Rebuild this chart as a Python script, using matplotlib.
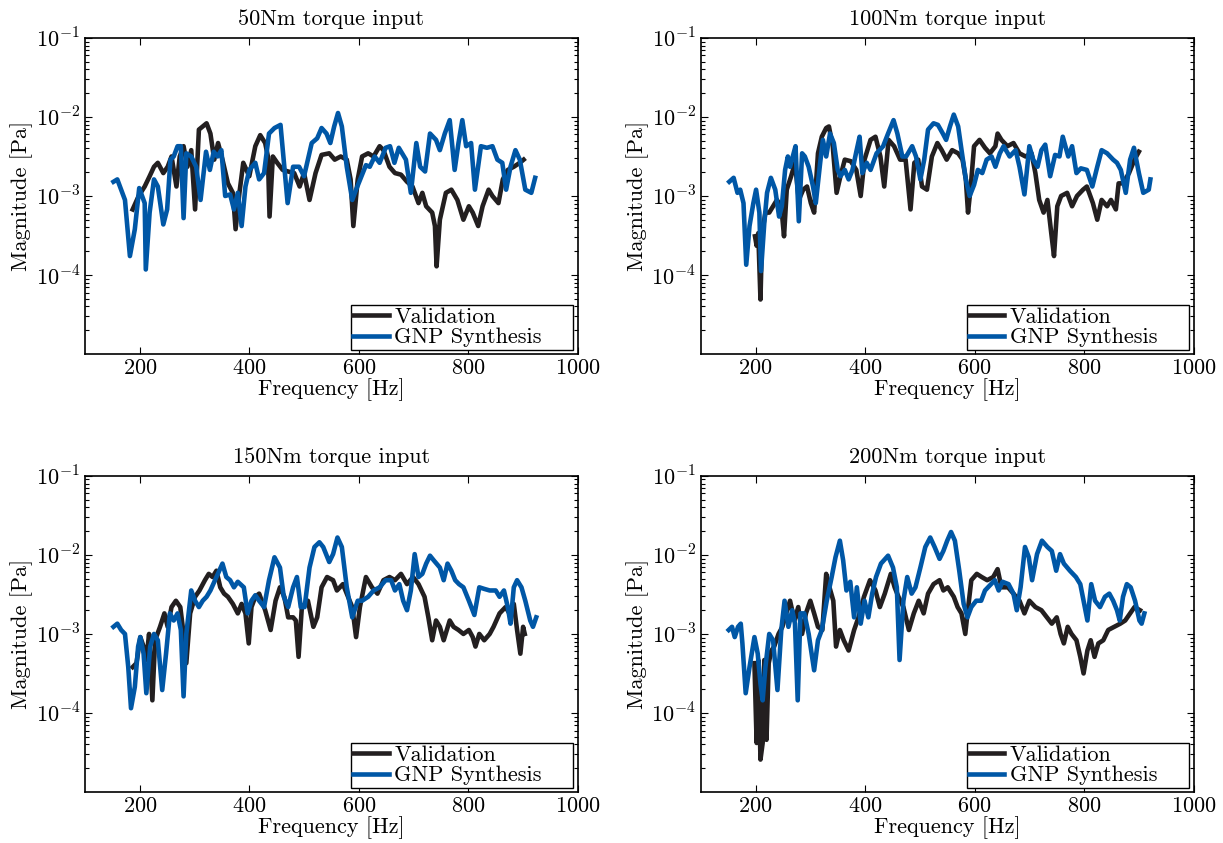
import numpy as np
import matplotlib
matplotlib.use("Agg")
import matplotlib.pyplot as plt

plt.rcParams['font.family'] = ['cmr10', 'DejaVu Serif']
plt.rcParams['mathtext.fontset'] = 'cm'
plt.rcParams['axes.formatter.use_mathtext'] = True
plt.rcParams['axes.unicode_minus'] = False

titles = ['50Nm torque input', '100Nm torque input', '150Nm torque input', '200Nm torque input']

# values are log10 of the magnitude [Pa]
# --- 50 Nm ---
f_gnp_50 = [152, 159, 173, 182, 191, 199, 209, 211, 218, 226, 233, 243, 250, 256, 262, 269, 275, 280, 285, 294,
            303, 311, 321, 328, 335, 342, 349, 356, 365, 372, 379, 386, 393, 400, 411, 418, 427, 436, 446, 457,
            470, 480, 491, 500, 514, 524, 532, 541, 548, 555, 562, 569, 578, 588, 595, 606, 613, 620, 629, 638,
            649, 657, 665, 673, 686, 695, 705, 712, 721, 730, 741, 748, 757, 766, 775, 782, 789, 796, 805, 812,
            823, 834, 844, 853, 862, 869, 877, 886, 894, 904, 915, 922]
m_gnp_50 = [-2.82, -2.79, -3.05, -3.76, -3.42, -2.90, -3.09, -3.93, -3.21, -2.79, -2.88, -3.36, -3.17, -2.54, -2.50,
            -2.37, -2.37, -3.28, -2.46, -2.50, -2.63, -3.05, -2.44, -2.67, -2.44, -2.50, -2.42, -3.00, -2.98, -3.17,
            -2.96, -3.38, -2.88, -2.67, -2.58, -2.79, -2.71, -2.21, -2.14, -2.10, -3.09, -2.63, -2.63, -2.75, -2.33,
            -2.27, -2.14, -2.21, -2.33, -2.12, -1.95, -2.12, -2.63, -3.05, -2.92, -2.73, -2.61, -2.63, -2.50, -2.58,
            -2.39, -2.37, -2.58, -2.39, -2.54, -2.96, -2.33, -2.63, -2.69, -2.21, -2.29, -2.42, -2.21, -2.04, -2.67,
            -2.33, -2.04, -2.37, -2.33, -2.92, -2.37, -2.39, -2.37, -2.54, -2.58, -2.92, -2.63, -2.42, -2.54, -2.92,
            -2.96, -2.77]
f_val_50 = [187, 198, 209, 218, 226, 233, 243, 251, 258, 267, 273, 280, 287, 294, 301, 308, 315, 322, 329, 336,
            343, 351, 361, 370, 375, 382, 389, 400, 411, 420, 429, 434, 437, 443, 451, 461, 471, 482, 492, 500,
            510, 521, 532, 546, 556, 567, 578, 585, 590, 598, 606, 617, 627, 638, 645, 656, 666, 677, 688, 698,
            709, 716, 723, 734, 739, 742, 748, 759, 769, 780, 791, 801, 808, 818, 826, 837, 844, 855, 863, 872,
            883, 894, 901]
m_val_50 = [-3.17, -3.00, -2.88, -2.75, -2.63, -2.58, -2.71, -2.63, -2.50, -2.88, -2.50, -2.37, -2.63, -2.42, -3.17,
            -2.16, -2.12, -2.08, -2.21, -2.54, -2.33, -2.54, -2.84, -2.96, -3.42, -2.96, -2.58, -2.75, -2.37, -2.23,
            -2.33, -2.50, -3.26, -2.50, -2.58, -2.67, -2.69, -2.71, -2.88, -2.71, -3.05, -2.71, -2.48, -2.46, -2.54,
            -2.50, -2.54, -2.79, -3.38, -2.79, -2.50, -2.46, -2.50, -2.37, -2.42, -2.63, -2.71, -2.73, -2.82, -2.88,
            -3.09, -2.96, -3.13, -3.21, -3.38, -3.89, -3.30, -2.96, -2.92, -3.05, -3.30, -3.13, -3.21, -3.38, -3.13,
            -2.92, -3.00, -3.09, -2.79, -2.67, -2.63, -2.58, -2.54]

# --- 100 Nm ---
f_gnp_100 = [152, 160, 167, 172, 178, 183, 189, 196, 201, 207, 210, 216, 221, 228, 236, 243, 248, 254, 259, 263,
             268, 273, 279, 285, 290, 297, 305, 310, 318, 323, 329, 336, 343, 350, 355, 363, 370, 377, 384, 390,
             395, 403, 410, 421, 433, 442, 452, 459, 468, 475, 486, 493, 501, 508, 515, 525, 533, 542, 548, 555,
             562, 570, 577, 584, 591, 599, 606, 614, 622, 631, 638, 646, 653, 664, 675, 682, 691, 700, 707, 715,
             722, 729, 738, 747, 755, 761, 771, 778, 786, 794, 805, 815, 824, 832, 842, 853, 860, 867, 876, 884,
             891, 900, 908, 918, 921]
m_gnp_100 = [-2.82, -2.77, -2.96, -2.92, -3.09, -3.87, -3.38, -3.09, -2.92, -3.21, -3.95, -3.34, -2.96, -2.77, -2.92,
             -3.26, -3.13, -2.67, -2.50, -2.63, -2.50, -2.37, -3.32, -2.46, -2.50, -2.63, -2.88, -3.09, -2.58, -2.29,
             -2.50, -2.21, -2.33, -2.67, -2.75, -2.67, -2.79, -2.67, -2.44, -2.25, -2.71, -2.58, -2.67, -2.46, -2.37,
             -2.21, -2.04, -2.21, -2.50, -2.50, -2.37, -2.50, -2.79, -2.54, -2.16, -2.08, -2.10, -2.21, -2.29, -2.12,
             -1.97, -2.12, -2.46, -2.79, -3.00, -2.86, -2.67, -2.71, -2.54, -2.50, -2.63, -2.46, -2.37, -2.50, -2.42,
             -2.63, -2.98, -2.37, -2.54, -2.63, -2.42, -2.35, -2.75, -2.48, -2.50, -2.25, -2.50, -2.37, -2.71, -2.65,
             -2.67, -2.88, -2.63, -2.42, -2.46, -2.54, -2.58, -2.67, -2.96, -2.54, -2.39, -2.71, -2.96, -2.92, -2.79]
f_val_100 = [199, 202, 205, 209, 212, 218, 225, 232, 239, 247, 252, 257, 265, 272, 279, 287, 294, 301, 307, 314,
             321, 329, 334, 341, 348, 355, 363, 374, 384, 392, 399, 410, 419, 428, 435, 443, 453, 464, 474, 483,
             490, 497, 504, 513, 522, 532, 540, 549, 559, 570, 578, 584, 588, 593, 599, 609, 619, 628, 638, 642,
             649, 660, 671, 682, 693, 704, 711, 718, 726, 733, 740, 745, 751, 758, 769, 778, 787, 798, 805, 816,
             824, 832, 842, 849, 858, 863, 871, 882, 892, 900]
m_val_100 = [-3.51, -3.63, -3.47, -4.31, -3.47, -3.21, -3.21, -3.13, -3.05, -3.13, -3.51, -2.92, -2.75, -2.58, -3.05,
             -2.92, -2.88, -3.09, -3.21, -2.46, -2.25, -2.14, -2.12, -2.37, -2.96, -2.75, -2.54, -2.56, -2.67, -3.00,
             -2.54, -2.29, -2.25, -2.50, -2.88, -2.29, -2.37, -2.54, -2.54, -3.17, -2.58, -2.54, -2.88, -2.92, -2.50,
             -2.33, -2.42, -2.54, -2.42, -2.46, -2.54, -2.79, -3.21, -2.88, -2.37, -2.29, -2.39, -2.46, -2.37, -2.21,
             -2.29, -2.37, -2.33, -2.46, -2.50, -2.46, -2.71, -3.05, -3.21, -3.05, -3.47, -3.76, -3.13, -3.00, -2.96,
             -3.13, -3.00, -2.92, -2.88, -3.09, -3.30, -3.05, -3.13, -3.05, -3.17, -2.84, -2.84, -2.71, -2.54, -2.44]

# --- 150 Nm ---
f_gnp_150 = [152, 159, 166, 173, 179, 184, 191, 197, 201, 207, 212, 219, 226, 233, 241, 248, 255, 262, 269, 275,
             280, 285, 294, 301, 308, 315, 322, 329, 340, 351, 358, 365, 372, 379, 390, 397, 404, 411, 418, 427,
             436, 446, 456, 463, 471, 480, 487, 494, 501, 510, 519, 528, 535, 546, 553, 561, 569, 578, 588, 598,
             606, 617, 627, 638, 649, 659, 666, 674, 681, 688, 695, 702, 709, 716, 723, 730, 737, 748, 755, 762,
             769, 776, 783, 791, 801, 811, 820, 829, 839, 850, 857, 865, 872, 877, 883, 889, 897, 904, 913, 918,
             924]
m_gnp_150 = [-2.91, -2.87, -2.95, -3.00, -3.42, -3.94, -3.67, -3.16, -3.04, -3.25, -3.75, -3.16, -3.00, -3.08, -3.71,
             -3.25, -2.74, -2.83, -2.74, -2.95, -3.79, -3.00, -2.45, -2.58, -2.66, -2.58, -2.53, -2.45, -2.28, -2.11,
             -2.28, -2.32, -2.41, -2.34, -2.41, -2.74, -2.58, -2.51, -2.58, -2.66, -2.32, -2.03, -2.16, -2.53, -2.66,
             -2.41, -2.28, -2.66, -2.66, -2.16, -1.90, -1.84, -1.90, -2.09, -1.99, -1.78, -1.90, -2.41, -2.79, -2.58,
             -2.58, -2.53, -2.45, -2.41, -2.32, -2.32, -2.45, -2.37, -2.58, -2.70, -2.45, -1.99, -2.28, -2.24, -2.11,
             -2.01, -2.07, -2.16, -2.32, -2.11, -2.20, -2.32, -2.37, -2.41, -2.58, -2.76, -2.41, -2.43, -2.45, -2.45,
             -2.53, -2.45, -2.66, -2.87, -2.41, -2.32, -2.41, -2.58, -2.83, -2.91, -2.79]
f_val_150 = [187, 194, 201, 207, 212, 217, 223, 228, 237, 245, 251, 258, 266, 274, 280, 285, 292, 301, 309, 319,
             326, 333, 340, 347, 354, 361, 370, 379, 386, 393, 399, 404, 411, 418, 429, 439, 448, 456, 464, 471,
             480, 485, 490, 496, 507, 517, 524, 532, 542, 553, 560, 571, 578, 588, 595, 602, 613, 624, 634, 645,
             656, 666, 677, 688, 699, 709, 720, 727, 734, 741, 748, 755, 766, 773, 782, 791, 801, 808, 813, 820,
             829, 839, 846, 857, 868, 875, 883, 889, 895, 900, 903]
m_val_150 = [-3.42, -3.37, -3.04, -3.16, -3.33, -3.00, -3.84, -3.08, -2.91, -2.74, -2.91, -2.66, -2.58, -2.66, -3.00,
             -3.37, -2.74, -2.53, -2.45, -2.32, -2.24, -2.28, -2.20, -2.41, -2.49, -2.53, -2.62, -2.74, -2.62, -2.74,
             -3.12, -2.66, -2.53, -2.49, -2.70, -2.95, -2.58, -2.41, -2.53, -2.79, -2.79, -2.83, -3.29, -2.66, -2.58,
             -2.91, -2.79, -2.41, -2.28, -2.32, -2.45, -2.37, -2.49, -2.66, -3.04, -2.66, -2.28, -2.41, -2.49, -2.32,
             -2.28, -2.32, -2.24, -2.37, -2.28, -2.37, -2.53, -2.79, -3.08, -2.83, -2.91, -3.08, -2.83, -2.91, -2.95,
             -3.00, -2.95, -3.04, -3.16, -3.00, -3.08, -3.00, -2.91, -2.74, -2.66, -2.74, -2.62, -2.95, -3.25, -2.91,
             -3.00]

# --- 200 Nm ---
f_gnp_200 = [151, 157, 162, 168, 173, 176, 182, 189, 198, 204, 209, 213, 218, 225, 232, 240, 247, 253, 260, 267,
             272, 277, 282, 289, 297, 307, 314, 321, 330, 339, 346, 354, 360, 366, 373, 380, 385, 392, 399, 406,
             413, 420, 429, 442, 451, 458, 463, 470, 477, 485, 492, 501, 510, 519, 527, 536, 543, 550, 557, 564,
             572, 580, 587, 594, 603, 612, 619, 630, 637, 644, 651, 662, 671, 677, 684, 692, 699, 705, 714, 723,
             733, 741, 749, 756, 763, 774, 785, 793, 799, 806, 813, 820, 829, 838, 846, 853, 860, 865, 871, 878,
             885, 893, 901, 905, 910]
m_gnp_200 = [-2.95, -2.91, -3.04, -2.91, -2.87, -3.12, -3.75, -3.42, -3.04, -3.25, -3.63, -3.84, -3.42, -3.00, -3.08,
             -3.71, -2.95, -2.58, -2.91, -2.70, -2.87, -3.84, -2.74, -2.74, -3.00, -3.46, -3.08, -2.95, -2.58, -2.28,
             -2.03, -1.82, -2.07, -2.45, -2.34, -2.79, -2.41, -2.87, -2.58, -2.79, -2.49, -2.28, -2.11, -2.01, -2.16,
             -2.41, -3.33, -2.58, -2.28, -2.49, -2.41, -2.16, -1.90, -1.78, -1.90, -2.05, -1.95, -1.82, -1.71, -1.82,
             -2.20, -2.62, -2.79, -2.66, -2.58, -2.58, -2.45, -2.37, -2.32, -2.45, -2.34, -2.37, -2.49, -2.70, -2.41,
             -1.90, -2.03, -2.32, -1.99, -1.82, -1.90, -1.95, -2.20, -1.99, -2.11, -2.20, -2.28, -2.37, -2.58, -2.83,
             -2.37, -2.58, -2.66, -2.53, -2.49, -2.58, -2.70, -2.83, -2.53, -2.37, -2.41, -2.58, -2.83, -2.87, -2.74]
f_val_200 = [198, 202, 205, 209, 213, 216, 220, 224, 229, 234, 242, 249, 256, 263, 271, 278, 285, 292, 300, 307,
             314, 322, 329, 335, 342, 347, 354, 361, 370, 380, 388, 398, 409, 419, 427, 436, 447, 454, 461, 470,
             480, 489, 498, 507, 515, 525, 536, 543, 551, 562, 569, 576, 583, 587, 594, 604, 613, 623, 634, 642,
             649, 661, 671, 682, 691, 700, 711, 722, 732, 741, 750, 757, 763, 770, 777, 786, 793, 799, 806, 812,
             819, 826, 835, 844, 855, 866, 875, 884, 892, 902]
m_val_200 = [-3.37, -4.38, -3.33, -4.59, -4.38, -3.33, -4.34, -3.37, -3.21, -3.16, -3.00, -2.91, -2.74, -2.58, -2.83,
             -2.66, -3.00, -2.74, -2.58, -2.74, -2.91, -2.95, -2.24, -2.41, -2.58, -3.16, -2.95, -3.08, -3.21, -2.95,
             -2.79, -2.53, -2.32, -2.45, -2.66, -2.49, -2.24, -2.41, -2.53, -2.66, -2.95, -2.74, -2.58, -2.74, -2.49,
             -2.37, -2.32, -2.45, -2.41, -2.53, -2.66, -2.74, -3.00, -2.74, -2.32, -2.24, -2.28, -2.32, -2.28, -2.18,
             -2.41, -2.41, -2.49, -2.58, -2.74, -2.58, -2.66, -2.70, -2.79, -2.87, -2.79, -3.00, -3.12, -2.91, -3.00,
             -3.08, -3.29, -3.50, -3.21, -3.08, -3.29, -3.12, -3.08, -2.95, -2.91, -2.87, -2.83, -2.74, -2.66, -2.70]

val_freqs = [f_val_50, f_val_100, f_val_150, f_val_200]
val_mags = [m_val_50, m_val_100, m_val_150, m_val_200]
gnp_freqs = [f_gnp_50, f_gnp_100, f_gnp_150, f_gnp_200]
gnp_mags = [m_gnp_50, m_gnp_100, m_gnp_150, m_gnp_200]

black = '#231f20'
blue = '#0057a6'
fs = 16

fig = plt.figure(figsize=(12.23, 8.43), dpi=100)
lefts = [0.0695, 0.573]
bottoms = [0.580, 0.0605]
w, h = 0.403, 0.375

for k in range(4):
    ax = fig.add_axes([lefts[k % 2], bottoms[k // 2], w, h])
    ax.plot(val_freqs[k], 10 ** np.array(val_mags[k]), color=black, lw=3.3, label='Validation')
    ax.plot(gnp_freqs[k], 10 ** np.array(gnp_mags[k]), color=blue, lw=3.3, label='GNP Synthesis    ')
    ax.set_yscale('log')
    ax.set_xlim(100, 1000)
    ax.set_ylim(1e-5, 1e-1)
    ax.set_xticks([200, 400, 600, 800, 1000])
    ax.set_yticks([1e-4, 1e-3, 1e-2, 1e-1])
    ax.set_yticklabels([r'$10^{-4}$', r'$10^{-3}$', r'$10^{-2}$', r'$10^{-1}$'])
    ax.tick_params(which='both', direction='in', top=True, right=True, labelsize=fs, width=0.8)
    ax.tick_params(which='major', length=5)
    ax.tick_params(which='minor', length=3)
    ax.tick_params(axis='x', which='minor', bottom=False, top=False)
    for s in ax.spines.values():
        s.set_linewidth(1.2)
    ax.set_title(titles[k], fontsize=fs, pad=9)
    ax.set_xlabel('Frequency [Hz]', fontsize=fs, labelpad=0)
    ax.set_ylabel('Magnitude [Pa]', fontsize=fs)
    ax.yaxis.set_label_coords(-0.105, 0.5)
    leg = ax.legend(loc='lower right', fontsize=fs, fancybox=False, framealpha=1,
                    edgecolor='black', borderaxespad=0.2, handlelength=1.6,
                    handletextpad=0.25, borderpad=0.1, labelspacing=0.05)
    leg.get_frame().set_linewidth(1.0)

fig.savefig('out.png', dpi=100)
